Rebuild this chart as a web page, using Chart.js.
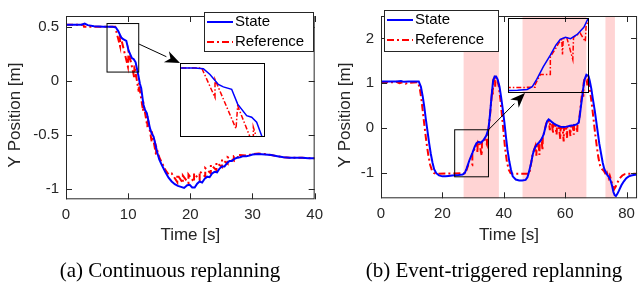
<!DOCTYPE html>
<html>
<head>
<meta charset="utf-8">
<script src="https://cdn.jsdelivr.net/npm/chart.js@4.4.1/dist/chart.umd.min.js"></script>
<style>
  body { margin: 0; width: 642px; height: 288px; background: #fff; position: relative; overflow: hidden; }
  canvas { position: absolute; }
  .cap { position: absolute; font-family: 'Liberation Serif', 'Times New Roman', serif; font-size: 21px;
         line-height: 24px; color: #000; white-space: nowrap; transform: translateX(-50%); }
</style>
</head>
<body>
<canvas id="chartA" width="330" height="262" style="left:0;top:0"></canvas>
<canvas id="chartB" width="317" height="262" style="left:325px;top:0"></canvas>
<canvas id="insetA" width="85" height="74" style="left:180px;top:63px"></canvas>
<canvas id="insetB" width="81" height="75" style="left:508px;top:18px"></canvas>
<div class="cap" style="left:170px;top:258px">(a) Continuous replanning</div>
<div class="cap" style="left:494px;top:258px">(b) Event-triggered replanning</div>
<script>
// ---- (a) continuous replanning ----
const stateTimeA = [0, 2.5, 3.0, 3.5, 4.5, 6, 7.5, 8.0, 8.4, 8.9, 9.2, 9.7, 10.06, 10.6, 10.9, 11.2, 11.6, 11.9,
  12.1, 12.45, 12.7, 13.0, 13.5, 13.8, 14.1, 14.6, 15.0, 15.4, 16.0, 16.5, 17.0, 17.5, 18.0, 18.5, 19.0, 19.5,
  19.9, 20.3, 20.7, 21.1, 21.5, 21.9, 22.3, 22.7, 23.1, 23.5, 23.9, 24.3, 24.7, 25.1, 25.5, 25.9, 26.3, 26.7,
  27.1, 27.5, 28, 28.5, 29, 29.5, 30, 31, 32, 33, 34, 35, 36, 37, 38, 39, 40];
const stateA = [0.52, 0.52, 0.53, 0.515, 0.505, 0.50, 0.50, 0.495, 0.46, 0.40, 0.385, 0.37, 0.28, 0.21, 0.20, 0.17,
  0.06, -0.03, -0.07, -0.22, -0.27, -0.30, -0.44, -0.49, -0.52, -0.65, -0.73, -0.78, -0.85, -0.90, -0.935, -0.96,
  -0.975, -0.985, -0.995, -0.97, -0.965, -0.99, -0.99, -0.955, -0.935, -0.945, -0.91, -0.89, -0.895, -0.86,
  -0.845, -0.85, -0.815, -0.795, -0.795, -0.765, -0.745, -0.745, -0.725, -0.715, -0.71, -0.70, -0.70, -0.695,
  -0.685, -0.68, -0.685, -0.69, -0.70, -0.71, -0.715, -0.715, -0.715, -0.72, -0.72];
const refTimeA = [0, 2.8, 2.9, 7.9, 8.7, 8.7, 9.96, 10.06, 10.8, 11.0, 11.0, 11.7, 11.7, 12.4, 12.4, 13.1, 13.1,
  13.8, 13.8, 14.5, 14.5, 15.0, 15.5, 16.0, 16.5, 17.0, 17.9, 17.9, 18.8, 18.8, 19.7, 19.7, 20.6, 20.6, 21.5,
  21.5, 22.4, 22.4, 23.3, 23.3, 24.2, 24.2, 25.1, 25.1, 26.0, 26.0, 27.0, 27.0, 28.0, 28.0, 29, 30, 31, 32, 33,
  34, 35, 36, 38, 40];
const refA = [0.52, 0.52, 0.50, 0.50, 0.32, 0.43, 0.13, 0.27, 0.08, 0.02, 0.14, -0.10, -0.02, -0.28, -0.19, -0.43,
  -0.33, -0.57, -0.47, -0.69, -0.61, -0.71, -0.77, -0.83, -0.87, -0.86, -0.94, -0.87, -0.95, -0.88, -0.95, -0.87,
  -0.94, -0.86, -0.92, -0.84, -0.89, -0.81, -0.86, -0.78, -0.83, -0.76, -0.80, -0.73, -0.77, -0.71, -0.74, -0.70,
  -0.715, -0.69, -0.695, -0.68, -0.675, -0.68, -0.69, -0.70, -0.71, -0.715, -0.715, -0.72];
const xTicksA = [0, 10, 20, 30, 40];
const yTicksA = [-1, -0.5, 0, 0.5];
const xRangeA = [0, 40];
const yRangeA = [-1.1, 0.6];
const insetXA = [6.6, 11.7];
const insetYA = [0.08, 0.53];

// ---- (b) event-triggered replanning ----
const stateTimeB = [0, 5, 6.5, 7.5, 9, 12.3, 13.0, 13.6, 14.1, 14.6, 15.2, 15.7, 16.2, 16.8, 17.3, 18.0, 18.9, 20,
  21, 22, 23.2, 25.3, 26.6, 27.3, 27.9, 28.8, 29.75, 30.5, 31.1, 31.8, 32.5, 33.4, 34.3, 35.0, 35.5, 36.0, 36.5,
  37.0, 37.5, 38.0, 38.6, 39.1, 39.7, 40.2, 40.7, 41.2, 41.8, 42.3, 42.9, 43.9, 45, 46, 47.1, 47.7, 48.2, 48.9,
  49.4, 49.8, 50.3, 50.9, 51.4, 51.9, 52.5, 53.0, 53.5, 54.1, 54.6, 55.2, 55.7, 56.5, 57.3, 58.3, 59.4, 60.5,
  61.6, 62.7, 63.7, 64.4, 64.8, 65.1, 65.5, 65.8, 66.3, 66.9, 67.6, 68.0, 68.5, 69.0, 69.6, 70.1, 70.6, 71.1,
  71.7, 72.2, 72.7, 73.3, 73.8, 74.3, 74.8, 75.3, 75.7, 76.1, 76.5, 77.0, 77.5, 78.3, 79.1, 79.9, 80.7, 81.5,
  82.3, 83.4];
const stateB = [1.04, 1.04, 1.05, 1.03, 1.04, 1.04, 0.92, 0.70, 0.47, 0.20, -0.10, -0.35, -0.57, -0.78, -0.92,
  -1.01, -1.06, -1.08, -1.08, -1.07, -1.06, -1.05, -1.04, -1.00, -0.90, -0.72, -0.56, -0.42, -0.34, -0.31, -0.33,
  -0.27, -0.17, -0.02, 0.30, 0.70, 1.05, 1.15, 1.15, 1.08, 0.92, 0.70, 0.40, 0.12, -0.20, -0.49, -0.75, -0.92,
  -1.08, -1.15, -1.17, -1.17, -1.16, -1.10, -0.98, -0.78, -0.60, -0.50, -0.42, -0.36, -0.33, -0.29, -0.22, -0.14,
  0.00, 0.15, 0.19, 0.16, 0.13, 0.09, 0.06, 0.03, 0.02, 0.03, 0.05, 0.06, 0.08, 0.12, 0.30, 0.47, 0.68, 0.85,
  1.08, 1.19, 1.16, 1.05, 0.88, 0.65, 0.40, 0.15, -0.10, -0.35, -0.58, -0.77, -0.91, -1.00, -1.06, -1.10, -1.18,
  -1.30, -1.43, -1.50, -1.52, -1.47, -1.40, -1.28, -1.19, -1.12, -1.08, -1.06, -1.05, -1.04];
const refTimeB = [0, 4, 5, 6, 7, 8, 9, 12.0, 12.6, 13.2, 13.7, 14.2, 14.8, 15.4, 16.0, 16.6, 17.3, 18, 27.7, 27.7,
  28.4, 29.75, 29.75, 30.4, 30.9, 31.3, 31.4, 31.5, 32.0, 32.8, 32.9, 33.8, 34.5, 34.6, 35.0, 35.5, 36.0, 36.3,
  36.4, 36.6, 37.0, 37.2, 37.3, 37.8, 38.4, 38.9, 39.4, 39.9, 40.4, 41.0, 41.6, 42.2, 43, 48.3, 48.8, 49.3, 49.8,
  50.3, 50.6, 50.7, 51.3, 51.6, 51.7, 52.3, 52.6, 52.7, 53.3, 53.8, 54.3, 54.7, 55.0, 55.1, 55.7, 56.0, 56.1,
  56.8, 57.2, 57.3, 58.0, 58.4, 58.5, 59.2, 59.5, 59.6, 60.3, 60.6, 60.7, 61.4, 61.7, 61.8, 62.5, 62.8, 62.9,
  63.6, 63.9, 64.0, 64.4, 64.8, 65.2, 65.6, 65.9, 66.0, 66.5, 66.9, 67.2, 67.3, 67.8, 68.3, 68.8, 69.3, 69.8,
  70.3, 70.8, 71.4, 72.0, 72.7, 73.3, 73.6, 74.2, 74.5, 75.2, 75.6, 76.0, 76.5, 77.0, 77.8, 78.6, 79.4, 80.2,
  83.4];
const refB = [1.02, 1.02, 1.03, 1.00, 1.02, 0.99, 1.01, 1.02, 0.90, 0.62, 0.32, 0.02, -0.32, -0.60, -0.82, -0.95,
  -1.01, -1.02, -1.01, -0.97, -0.83, -0.83, -0.58, -0.48, -0.39, -0.34, -0.55, -0.33, -0.32, -0.62, -0.31, -0.25,
  -0.37, -0.16, -0.04, 0.28, 0.66, 0.90, 0.75, 1.08, 1.13, 0.92, 1.13, 1.10, 0.92, 0.62, 0.28, -0.08, -0.45,
  -0.75, -0.93, -1.01, -1.02, -1.02, -0.82, -0.62, -0.50, -0.40, -0.62, -0.38, -0.34, -0.60, -0.32, -0.25, -0.50,
  -0.22, -0.05, 0.10, 0.17, 0.13, -0.05, 0.12, 0.09, -0.12, 0.08, 0.05, -0.15, 0.04, 0.00, -0.25, 0.02, -0.02,
  -0.30, 0.01, -0.02, -0.22, 0.02, 0.00, -0.18, 0.04, 0.02, -0.15, 0.06, 0.04, -0.10, 0.08, 0.10, 0.35, 0.60,
  0.85, 0.70, 1.00, 1.15, 1.15, 0.95, 1.12, 0.98, 0.72, 0.45, 0.15, -0.15, -0.42, -0.66, -0.85, -0.92, -0.97,
  -1.05, -1.00, -1.12, -1.06, -1.22, -1.28, -1.36, -1.30, -1.22, -1.12, -1.06, -1.03, -1.02, -1.02];
const xTicksB = [0, 20, 40, 60, 80];
const yTicksB = [-1, 0, 1, 2];
const xRangeB = [0, 83.4];
const yRangeB = [-1.57, 2.5];
const insetXB = [24, 35];
const insetYB = [-1.09, -0.04];
// replanning events (shaded)
const eventStart = [26.9, 46.1, 73.1];
const eventEnd = [38.4, 66.9, 76.2];

const seriesNames = ['State', 'Reference'];
const axisColor = '#262626';
const sansFont = "'Liberation Sans', Arial, Helvetica, sans-serif";

function points(xs, ys) {
    return xs.map((x, i) => ({ x: x, y: ys[i] }));
}

function lineSets(st, sv, rt, rv, w) {
    return [{
        label: seriesNames[0],
        data: points(st, sv),
        borderColor: '#0000ff',
        borderWidth: w,
        pointRadius: 0,
        tension: 0
    }, {
        label: seriesNames[1],
        data: points(rt, rv),
        borderColor: '#ff0000',
        borderWidth: w,
        borderDash: w > 1.6 ? [7, 3, 2, 3] : [5, 2, 1.5, 2],
        pointRadius: 0,
        tension: 0
    }];
}

// shaded event windows, box with inward ticks, y label, zoom marker, arrow and legend
const decorations = {
    id: 'decorations',
    beforeDatasetsDraw(chart, args, o) {
        const { ctx, chartArea: a, scales: { x } } = chart;
        if (!o.shadeStart) return;
        ctx.save();
        ctx.fillStyle = 'rgba(255, 0, 0, 0.17)';
        o.shadeStart.forEach((s, i) => {
            const x0 = x.getPixelForValue(s), x1 = x.getPixelForValue(o.shadeEnd[i]);
            ctx.fillRect(x0, a.top, x1 - x0, a.bottom - a.top);
        });
        ctx.restore();
    },
    afterDatasetsDraw(chart, args, o) {
        const { ctx, chartArea: a, scales: { x, y } } = chart;
        ctx.save();
        // box and inward ticks
        ctx.strokeStyle = axisColor;
        ctx.lineWidth = 1;
        ctx.strokeRect(a.left + 0.5, a.top + 0.5, a.right - a.left - 1, a.bottom - a.top - 1);
        ctx.beginPath();
        x.ticks.forEach(t => {
            const p = Math.round(x.getPixelForValue(t.value)) + 0.5;
            ctx.moveTo(p, a.bottom); ctx.lineTo(p, a.bottom - 6);
            ctx.moveTo(p, a.top); ctx.lineTo(p, a.top + 6);
        });
        y.ticks.forEach(t => {
            const p = Math.round(y.getPixelForValue(t.value)) + 0.5;
            ctx.moveTo(a.left, p); ctx.lineTo(a.left + 6, p);
            ctx.moveTo(a.right, p); ctx.lineTo(a.right - 6, p);
        });
        ctx.stroke();

        // y axis label
        ctx.save();
        ctx.translate(o.yLabel[0], o.yLabel[1]);
        ctx.rotate(-Math.PI / 2);
        ctx.font = '17px ' + sansFont;
        ctx.fillStyle = axisColor;
        ctx.textAlign = 'center';
        ctx.textBaseline = 'middle';
        ctx.fillText('Y Position [m]', 0, 0);
        ctx.restore();

        // zoomed region and arrow to the inset
        const r = {
            l: x.getPixelForValue(o.zoomX[0]), rt: x.getPixelForValue(o.zoomX[1]),
            t: y.getPixelForValue(o.zoomY[1]), b: y.getPixelForValue(o.zoomY[0])
        };
        ctx.strokeStyle = '#000';
        ctx.strokeRect(r.l, r.t, r.rt - r.l, r.b - r.t);
        const inset = document.getElementById(o.inset);
        const ix = inset.offsetLeft - chart.canvas.offsetLeft;
        const iy = inset.offsetTop - chart.canvas.offsetTop;
        const sx = r.rt, sy = r.t + o.arrowFrom * (r.b - r.t);
        const ex = ix + o.arrowTo[0] * inset.width, ey = iy + o.arrowTo[1] * inset.height;
        const ang = Math.atan2(ey - sy, ex - sx);
        const hl = 15, hw = 6;
        const bx = ex - hl * Math.cos(ang), by = ey - hl * Math.sin(ang);
        ctx.beginPath();
        ctx.moveTo(sx, sy); ctx.lineTo(bx, by);
        ctx.stroke();
        ctx.fillStyle = '#000';
        ctx.beginPath();
        ctx.moveTo(ex, ey);
        ctx.lineTo(bx - hw * Math.sin(ang), by + hw * Math.cos(ang));
        ctx.lineTo(ex - 0.7 * hl * Math.cos(ang), ey - 0.7 * hl * Math.sin(ang));
        ctx.lineTo(bx + hw * Math.sin(ang), by - hw * Math.cos(ang));
        ctx.closePath();
        ctx.fill();

        // legend box
        const L = o.legend;
        ctx.fillStyle = '#fff';
        ctx.fillRect(L.x, L.y, L.w, L.h);
        ctx.strokeStyle = axisColor;
        ctx.strokeRect(L.x + 0.5, L.y + 0.5, L.w - 1, L.h - 1);
        ctx.font = '15px ' + sansFont;
        ctx.textBaseline = 'middle';
        chart.data.datasets.forEach((ds, i) => {
            const ly = L.y + 10 + i * 20;
            ctx.strokeStyle = ds.borderColor;
            ctx.lineWidth = 2;
            ctx.setLineDash(ds.borderDash || []);
            ctx.beginPath();
            ctx.moveTo(L.x + 3, ly); ctx.lineTo(L.x + 29, ly);
            ctx.stroke();
            ctx.setLineDash([]);
            ctx.fillStyle = '#000';
            ctx.fillText(ds.label, L.x + 31, ly);
        });
        ctx.restore();
    }
};

function mainChart(id, cfg) {
    const ctx = document.getElementById(id).getContext('2d');
    return new Chart(ctx, {
        type: 'line',
        data: { datasets: lineSets(cfg.st, cfg.sv, cfg.rt, cfg.rv, 2) },
        options: {
            responsive: false,
            animation: false,
            layout: { padding: cfg.padding },
            plugins: {
                legend: { display: false },
                tooltip: { enabled: false },
                decorations: cfg.deco
            },
            scales: {
                x: {
                    type: 'linear',
                    min: cfg.xRange[0],
                    max: cfg.xRange[1],
                    afterBuildTicks: s => { s.ticks = cfg.xTicks.map(v => ({ value: v })); },
                    afterFit: s => { s.height = cfg.xHeight; },
                    grid: { display: false, drawTicks: false },
                    border: { display: false },
                    ticks: { padding: 7, color: axisColor, font: { family: sansFont, size: 15 }, maxRotation: 0, callback: v => String(v) },
                    title: { display: true, text: 'Time [s]', color: axisColor, padding: { top: 0, bottom: 16 }, font: { family: sansFont, size: 17 } }
                },
                y: {
                    min: cfg.yRange[0],
                    max: cfg.yRange[1],
                    afterBuildTicks: s => { s.ticks = cfg.yTicks.map(v => ({ value: v })); },
                    afterFit: s => { s.width = cfg.yWidth; },
                    grid: { display: false, drawTicks: false },
                    border: { display: false },
                    ticks: { padding: 7, color: axisColor, font: { family: sansFont, size: 15 }, callback: v => String(v) },
                    title: { display: false }
                }
            }
        },
        plugins: [decorations]
    });
}

function insetChart(id, cfg) {
    const ctx = document.getElementById(id).getContext('2d');
    return new Chart(ctx, {
        type: 'line',
        data: { datasets: lineSets(cfg.st, cfg.sv, cfg.rt, cfg.rv, 1.5) },
        options: {
            responsive: false,
            animation: false,
            layout: { padding: 0 },
            plugins: { legend: { display: false }, tooltip: { enabled: false } },
            scales: {
                x: { type: 'linear', display: false, min: cfg.xRange[0], max: cfg.xRange[1] },
                y: { display: false, min: cfg.yRange[0], max: cfg.yRange[1] }
            }
        },
        plugins: [{
            id: 'insetBox',
            afterDraw(chart) {
                const { ctx, width, height } = chart;
                ctx.save();
                ctx.strokeStyle = '#000';
                ctx.lineWidth = 1;
                ctx.strokeRect(0.5, 0.5, width - 1, height - 1);
                ctx.restore();
            }
        }]
    });
}

mainChart('chartA', {
    st: stateTimeA, sv: stateA, rt: refTimeA, rv: refA,
    xRange: xRangeA, yRange: yRangeA, xTicks: xTicksA, yTicks: yTicksA,
    padding: { top: 4, right: 8, left: 0, bottom: 0 }, xHeight: 62.7, yWidth: 66,
    deco: {
        yLabel: [15, 115],
        zoomX: insetXA, zoomY: insetYA, inset: 'insetA', arrowFrom: 0.42, arrowTo: [0, 0],
        legend: { x: 204, y: 12, w: 110, h: 40 }
    }
});

mainChart('chartB', {
    st: stateTimeB, sv: stateB, rt: refTimeB, rv: refB,
    xRange: xRangeB, yRange: yRangeB, xTicks: xTicksB, yTicks: yTicksB,
    padding: { top: 5, right: 1, left: 0, bottom: 0 }, xHeight: 63.7, yWidth: 56,
    deco: {
        yLabel: [20, 115],
        shadeStart: eventStart, shadeEnd: eventEnd,
        zoomX: insetXB, zoomY: insetYB, inset: 'insetB', arrowFrom: 0, arrowTo: [0.21, 1],
        legend: { x: 59, y: 10, w: 115, h: 42 }
    }
});

insetChart('insetA', { st: stateTimeA, sv: stateA, rt: refTimeA, rv: refA, xRange: insetXA, yRange: insetYA });
insetChart('insetB', { st: stateTimeB, sv: stateB, rt: refTimeB, rv: refB, xRange: insetXB, yRange: insetYB });
</script>
</body>
</html>
